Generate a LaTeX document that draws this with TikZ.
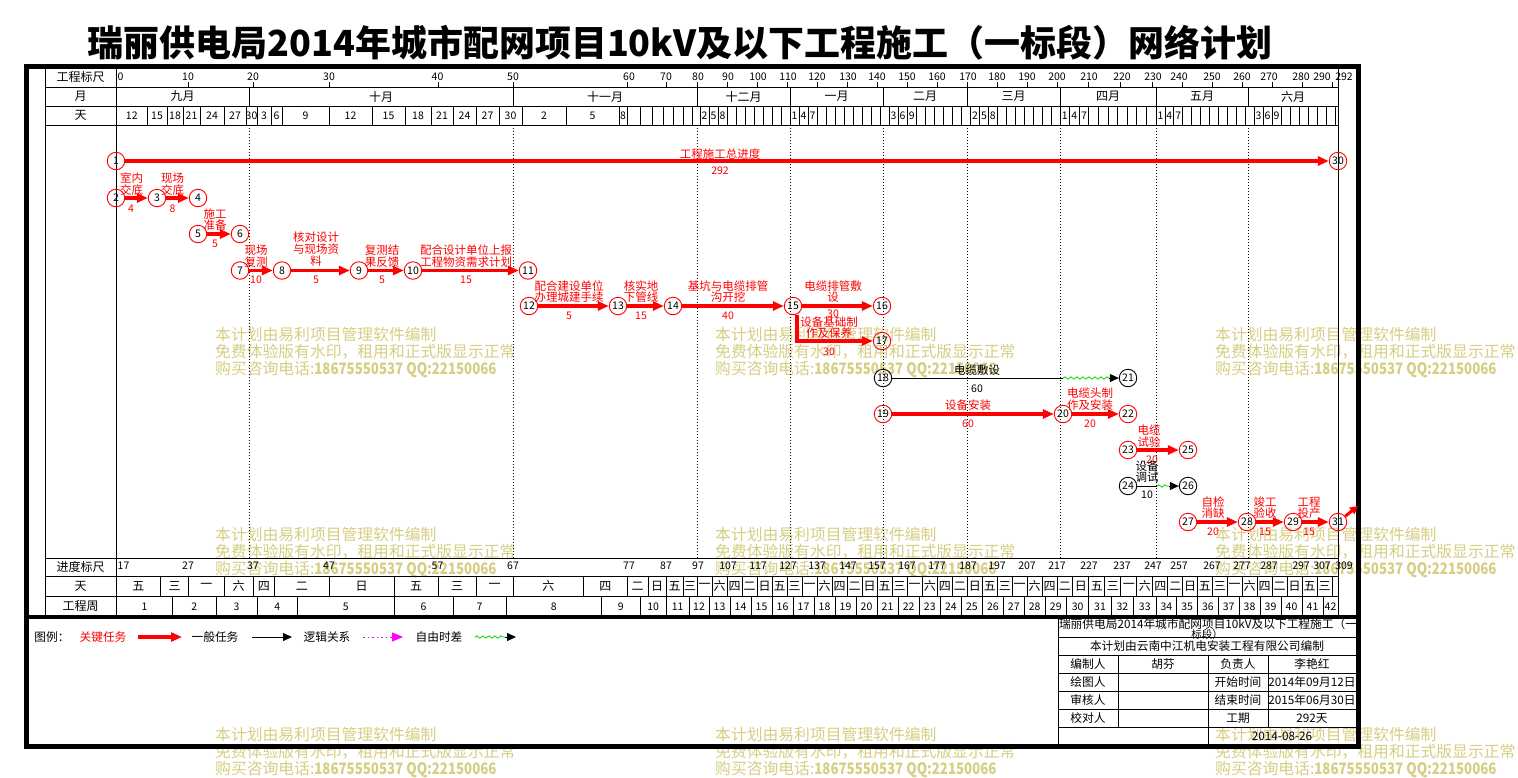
\documentclass[tikz,border=0pt]{standalone}
\usepackage{fontspec}
\setmainfont{Noto Sans CJK SC}
\usetikzlibrary{arrows.meta,decorations.pathmorphing}
\definecolor{wmc}{RGB}{214,206,130}
\definecolor{fgreen}{RGB}{0,215,0}
\definecolor{magen}{RGB}{255,0,255}
\def\anchors{0/116.5,3/147,6/167,9/183,12/200,15/224,18/246,19/249.5,21/257,24/271,27/282,30/329,33/372,36/405,39/431,42/453,45/476,48/499,50/513,51/522,54/566,57/619,60/627,63/640,66/652,69/663,72/673,75/683,78/692,80/697,111/790,142/883,170/967.5,201/1060,231/1156,262/1248,292/1338}
\def\ticklist{10/188,20/253,30/329,40/437.5,50/513,60/629,70/666,80/698,90/728,100/758,110/788,120/817,130/848,140/877,150/907,160/937,170/968,180/997,190/1027,200/1057,210/1089,220/1122,230/1153,240/1179,250/1212,260/1242,270/1269,280/1301,290/1322}
\newcommand\dayx[1]{%
  \pgfmathsetmacro\dyD{#1}%
  \xdef\dayX{1338}\xdef\dyPD{0}\xdef\dyPX{116.5}%
  \foreach \ad/\ax in \anchors {%
    \pgfmathparse{(\dyD>=\dyPD)*(\dyD<=\ad)*(\ad>\dyPD)}%
    \ifdim\pgfmathresult pt>0.5pt
      \pgfmathparse{\dyPX+(\dyD-\dyPD)*(\ax-\dyPX)/(\ad-\dyPD)}%
      \xdef\dayX{\pgfmathresult}%
    \fi
    \xdef\dyPD{\ad}\xdef\dyPX{\ax}%
  }%
}
\newcommand\wkn[1]{\ifcase#1 日\or 一\or 二\or 三\or 四\or 五\or 六\fi}
\tikzset{
  gline/.style={black,line width=0.8pt},
  mline/.style={black,line width=0.8pt,dash pattern=on 1pt off 2pt},
  crit/.style={red,line width=3.5pt,-{Triangle[length=11pt,width=9pt]}},
  norm/.style={black,line width=0.8pt},
  normarr/.style={black,line width=0.8pt,-{Triangle[length=9pt,width=8pt]}},
  flt/.style={fgreen,line width=0.8pt,decorate,decoration={snake,amplitude=1.2pt,segment length=6pt}},
  ev/.style={circle,draw=red,line width=0.9pt,minimum size=17.5pt,inner sep=0pt,font=\fontsize{10.5}{10.5}\selectfont},
  evb/.style={ev,draw=black},
  tl/.style={text=red,align=center,inner sep=0pt,font=\fontsize{11.5}{11.5}\selectfont},
  tlb/.style={tl,text=black},
  tn/.style={text=red,inner sep=0pt,font=\fontsize{10.5}{10.5}\selectfont},
  tnb/.style={tn,text=black},
  sc/.style={inner sep=0pt,font=\fontsize{12}{12}\selectfont},
  scn/.style={inner sep=0pt,font=\fontsize{10.5}{10.5}\selectfont},
  wmk/.style={anchor=west,inner sep=0pt,text=wmc,font=\fontsize{15.8}{15.8}\selectfont},
  tbx/.style={inner sep=0pt,font=\fontsize{11.7}{11.7}\selectfont},
}
\begin{document}
\begin{tikzpicture}[x=1pt,y=-1pt]
\fill[white] (0,0) rectangle (1518,777);
\useasboundingbox (0,0) rectangle (1518,777);

% watermark
\foreach \wx in {215,715,1215}{
  \foreach \wy in {334,534,734}{
    \node[wmk] (wa\wx\wy) at (\wx,\wy) {本计划由易利项目管理软件编制};
    \node[wmk] (wb\wx\wy) at (\wx,\wy+18) {免费体验版有水印，租用和正式版显示正常};
    \node[wmk] (wc\wx\wy) at (\wx,\wy+36) {购买咨询电话:\scalebox{0.84}[1]{\bfseries 18675550537 QQ:22150066}};
  }
}

% title
\node[inner sep=0pt] (title) at (680,43) {\resizebox{1184pt}{!}{\fontsize{30}{30}\selectfont\bfseries 瑞丽供电局2014年城市配网项目10kV及以下工程施工（一标段）网络计划}};

% frame
\draw[line width=5pt] (26,66) rectangle (1358,746);
\draw[line width=3.5pt] (26,617) -- (1358,617);
\draw[gline] (45,66) -- (45,617);
\draw[gline] (116.5,66) -- (116.5,617);
\draw[gline] (1338,66) -- (1338,617);
\foreach \yy in {87,106,125,558,576.5,596}{\draw[gline] (45,\yy) -- (1338,\yy);}

% left labels
\node[sc] (lab1) at (80.5,77) {工程标尺};
\node[sc] (lab2) at (80.5,96.5) {月};
\node[sc] (lab3) at (80.5,115.5) {天};
\node[sc] (lab4) at (80.5,567) {进度标尺};
\node[sc] (lab5) at (80.5,586) {天};
\node[sc] (lab6) at (80.5,606.5) {工程周};

% tick rows
\node[scn,anchor=west] (tk0) at (117.5,76.5) {0};
\node[scn,anchor=west] (bk0) at (117.5,566) {17};
\node[scn] (tk292) at (1344,76.5) {292};
\node[scn] (bk292) at (1344,566) {309};
\foreach \d/\lx in \ticklist {
  \dayx{\d}
  \draw[gline] (\dayX,82) -- (\dayX,87);
  \pgfmathtruncatemacro\tb{\d+17}
  \node[scn] (tk\d) at (\lx,76.5) {\d};
  \node[scn] (bk\d) at (\lx,566) {\tb};
}

% month row and dotted month lines
\foreach \mx in {249.5,513,697,790,883,967.5,1060,1156,1248}{
  \draw[gline] (\mx,87) -- (\mx,106);
  \draw[mline] (\mx,125) -- (\mx,558);
}
\foreach \mx/\mt [count=\i] in {182.5/九月,381/十月,605/十一月,743.5/十二月,836.5/一月,925/二月,1013.5/三月,1108/四月,1202/五月,1293/六月}{
  \node[sc] (mo\i) at (\mx,96.5) {\mt};
}

% top day row
\foreach \k in {1,...,97}{
  \pgfmathtruncatemacro\dv{3*\k}
  \dayx{\dv}
  \draw[gline] (\dayX,106) -- (\dayX,125);
}
\foreach \d/\t in {0/12,3/15,6/18,9/21,12/24,15/27,18/30,21/3,24/6,27/9,30/12,33/15,36/18,39/21,42/24,45/27,48/30,51/2,54/5,57/8,81/2,84/5,87/8,111/1,114/4,117/7,144/3,147/6,150/9,171/2,174/5,177/8,201/1,204/4,207/7,231/1,234/4,237/7,264/3,267/6,270/9}{
  \dayx{\d}\let\xa\dayX
  \pgfmathtruncatemacro\de{\d+3}
  \dayx{\de}
  \node[scn] (dy\d) at ({(\xa+\dayX)/2},115.5) {\t};
}

% bottom weekday row
\foreach \k in {0,...,57}{
  \pgfmathtruncatemacro\da{5*\k}
  \pgfmathtruncatemacro\db{5*\k+5}
  \dayx{\da}\let\xa\dayX
  \dayx{\db}
  \draw[gline] (\dayX,576.5) -- (\dayX,596);
  \pgfmathtruncatemacro\w{mod(5+\da,7)}
  \node[sc] (wd\k) at ({(\xa+\dayX)/2},586) {\wkn{\w}};
}

% bottom week row
\foreach \k in {1,...,42}{
  \pgfmathtruncatemacro\da{7*(\k-1)}
  \pgfmathtruncatemacro\db{min(7*\k,292)}
  \dayx{\da}\let\xa\dayX
  \dayx{\db}
  \draw[gline] (\dayX,596) -- (\dayX,617);
  \node[scn] (wk\k) at ({(\xa+\dayX)/2},606.5) {\k};
}

% ===== network =====
\node[ev] (n1) at (116,161) {1};
\node[ev] (n30) at (1338,161) {30};
\node[ev] (n2) at (116,198) {2};
\node[ev] (n3) at (157,198) {3};
\node[ev] (n4) at (198,198) {4};
\node[ev] (n5) at (198,234) {5};
\node[ev] (n6) at (240,234) {6};
\node[ev] (n7) at (240,270.5) {7};
\node[ev] (n8) at (282,270.5) {8};
\node[ev] (n9) at (359,270.5) {9};
\node[ev] (n10) at (413,270.5) {10};
\node[ev] (n11) at (528,270.5) {11};
\node[ev] (n12) at (529,306) {12};
\node[ev] (n13) at (618,306) {13};
\node[ev] (n14) at (673,306) {14};
\node[ev] (n15) at (793,306) {15};
\node[ev] (n16) at (882,306) {16};
\node[ev] (n17) at (882,341) {17};
\node[evb] (n18) at (883,378) {18};
\node[evb] (n21) at (1128,378) {21};
\node[ev] (n19) at (883,414) {19};
\node[ev] (n20) at (1063,414) {20};
\node[ev] (n22) at (1128,414) {22};
\node[ev] (n23) at (1128,450) {23};
\node[ev] (n25) at (1188,450) {25};
\node[evb] (n24) at (1128,486) {24};
\node[evb] (n26) at (1188,486) {26};
\node[ev] (n27) at (1188,522) {27};
\node[ev] (n28) at (1247,522) {28};
\node[ev] (n29) at (1293,522) {29};
\node[ev] (n31) at (1338,522) {31};

\draw[crit] (n1) -- (n30);
\draw[crit] (n2) -- (n3);
\draw[crit] (n3) -- (n4);
\draw[crit] (n5) -- (n6);
\draw[crit] (n7) -- (n8);
\draw[crit] (n8) -- (n9);
\draw[crit] (n9) -- (n10);
\draw[crit] (n10) -- (n11);
\draw[crit] (n12) -- (n13);
\draw[crit] (n13) -- (n14);
\draw[crit] (n14) -- (n15);
\draw[crit] (n15) -- (n16);
\draw[crit] ([xshift=4pt]n15.south) |- (n17);
\draw[crit] (n19) -- (n20);
\draw[crit] (n20) -- (n22);
\draw[crit] (n23) -- (n25);
\draw[crit] (n27) -- (n28);
\draw[crit] (n28) -- (n29);
\draw[crit] (n29) -- (n31);
\coordinate (e31) at (1358,506);
\draw[red,line width=3pt,-{Triangle[length=8pt,width=8pt]}] (n31) -- (e31);

\coordinate (f18a) at (1063,378);
\coordinate (f18b) at (1109,378);
\draw[norm] (n18) -- (f18a);
\draw[flt] (f18a) -- (f18b);
\draw[normarr] (f18b) -- (n21);
\coordinate (f24a) at (1157,486);
\coordinate (f24b) at (1169,486);
\draw[norm] (n24) -- (f24a);
\draw[flt] (f24a) -- (f24b);
\draw[normarr] (f24b) -- (n26);

% task labels
\node[tl] (l130) at (720,154) {工程施工总进度};
\node[tn] (d130) at (720,171) {292};
\node[tl] (l23) at (131.5,184) {室内\\交底};
\node[tn] (d23) at (131,208.5) {4};
\node[tl] (l34) at (172.5,184) {现场\\交底};
\node[tn] (d34) at (172.5,208.5) {8};
\node[tl] (l56) at (215,219.5) {施工\\准备};
\node[tn] (d56) at (215,244) {5};
\node[tl] (l78) at (256,256) {现场\\复测};
\node[tn] (d78) at (256,280) {10};
\node[tl,font=\fontsize{11.5}{12}\selectfont] (l89) at (316,249.5) {核对设计\\与现场资\\料};
\node[tn] (d89) at (316,280) {5};
\node[tl] (l910) at (382,256) {复测结\\果反馈};
\node[tn] (d910) at (382,280) {5};
\node[tl] (l1011) at (466,256) {配合设计单位上报\\工程物资需求计划};
\node[tn] (d1011) at (466,280) {15};
\node[tl] (l1213) at (569,291.5) {配合建设单位\\办理城建手续};
\node[tn] (d1213) at (569,316) {5};
\node[tl] (l1314) at (641,291.5) {核实地\\下管线};
\node[tn] (d1314) at (641,316) {15};
\node[tl] (l1415) at (728,291.5) {基坑与电缆排管\\沟开挖};
\node[tn] (d1415) at (728,316) {40};
\node[tl] (l1516) at (833,291.5) {电缆排管敷\\设};
\node[tn] (d1516) at (833,313.5) {30};
\node[tl] (l1517) at (829,327.5) {设备基础制\\作及保养};
\node[tn] (d1517) at (829,352) {30};
\node[tlb] (l1821) at (977,370) {电缆敷设};
\node[tnb] (d1821) at (977,388.5) {60};
\node[tl] (l1920) at (968,405) {设备安装};
\node[tn] (d1920) at (968,423.5) {60};
\node[tl] (l2022) at (1090,399) {电缆头制\\作及安装};
\node[tn] (d2022) at (1090,423.5) {20};
\node[tn] (d2325) at (1152,459.5) {20};
\node[tl] (l2325) at (1149,436) {电缆\\试验};
\node[tlb] (l2426) at (1147,471.5) {设备\\调试};
\node[tnb] (d2426) at (1147,495) {10};
\node[tl] (l2728) at (1213,507.5) {自检\\消缺};
\node[tn] (d2728) at (1213,532) {20};
\node[tl] (l2829) at (1265,507.5) {竣工\\验收};
\node[tn] (d2829) at (1265,532) {15};
\node[tl] (l2931) at (1309,507.5) {工程\\投产};
\node[tn] (d2931) at (1309,532) {15};

% legend
\node[tbx] (lg0) at (52,637) {图例：};
\node[tbx,text=red] (lg1) at (103,637) {关键任务};
\coordinate (lg1a) at (138,637); \coordinate (lg1b) at (182,637);
\draw[crit] (lg1a) -- (lg1b);
\node[tbx] (lg2) at (215,637) {一般任务};
\coordinate (lg2a) at (252,637); \coordinate (lg2b) at (292,637);
\draw[normarr] (lg2a) -- (lg2b);
\node[tbx] (lg3) at (327,637) {逻辑关系};
\coordinate (lg3a) at (363,637); \coordinate (lg3b) at (403,637);
\draw[magen,line width=1pt,dash pattern=on 1.5pt off 3pt,-{Triangle[length=11pt,width=9pt]}] (lg3a) -- (lg3b);
\node[tbx] (lg4) at (439,637) {自由时差};
\coordinate (lg4a) at (475,637); \coordinate (lg4b) at (505,637); \coordinate (lg4c) at (516,637);
\draw[flt] (lg4a) -- (lg4b);
\draw[normarr] (lg4b) -- (lg4c);

% title block
\foreach \yy in {637,655.3,673,691.3,709.3,727}{\draw[gline] (1058,\yy) -- (1358,\yy);}
\draw[gline] (1058,617) -- (1058,746);
\draw[gline] (1118,655.3) -- (1118,727);
\draw[gline] (1208,655.3) -- (1208,746);
\draw[gline] (1268,655.3) -- (1268,727);
\node[inner sep=0pt] (tb1) at (1208,624) {\resizebox{298pt}{!}{\fontsize{10.3}{10.3}\selectfont 瑞丽供电局2014年城市配网项目10kV及以下工程施工（一}};
\node[tbx,font=\fontsize{10.5}{10.5}\selectfont] (tb2) at (1207,634) {标段）};
\node[tbx] (tb3) at (1207,646.3) {本计划由云南中江机电安装工程有限公司编制};
\node[tbx] (tc1) at (1088,664) {编制人};
\node[tbx] (tc2) at (1163,664) {胡芬};
\node[tbx] (tc3) at (1238,664) {负责人};
\node[tbx] (tc4) at (1312,664) {李艳红};
\node[tbx] (td1) at (1088,682) {绘图人};
\node[tbx] (td3) at (1238,682) {开始时间};
\node[tbx] (td4) at (1312,682) {2014年09月12日};
\node[tbx] (te1) at (1088,700.3) {审核人};
\node[tbx] (te3) at (1238,700.3) {结束时间};
\node[tbx] (te4) at (1312,700.3) {2015年06月30日};
\node[tbx] (tf1) at (1088,718) {校对人};
\node[tbx] (tf3) at (1238,718) {工期};
\node[tbx] (tf4) at (1312,718) {292天};
\node[tbx] (tg4) at (1282,736) {2014-08-26};
\end{tikzpicture}
\end{document}
